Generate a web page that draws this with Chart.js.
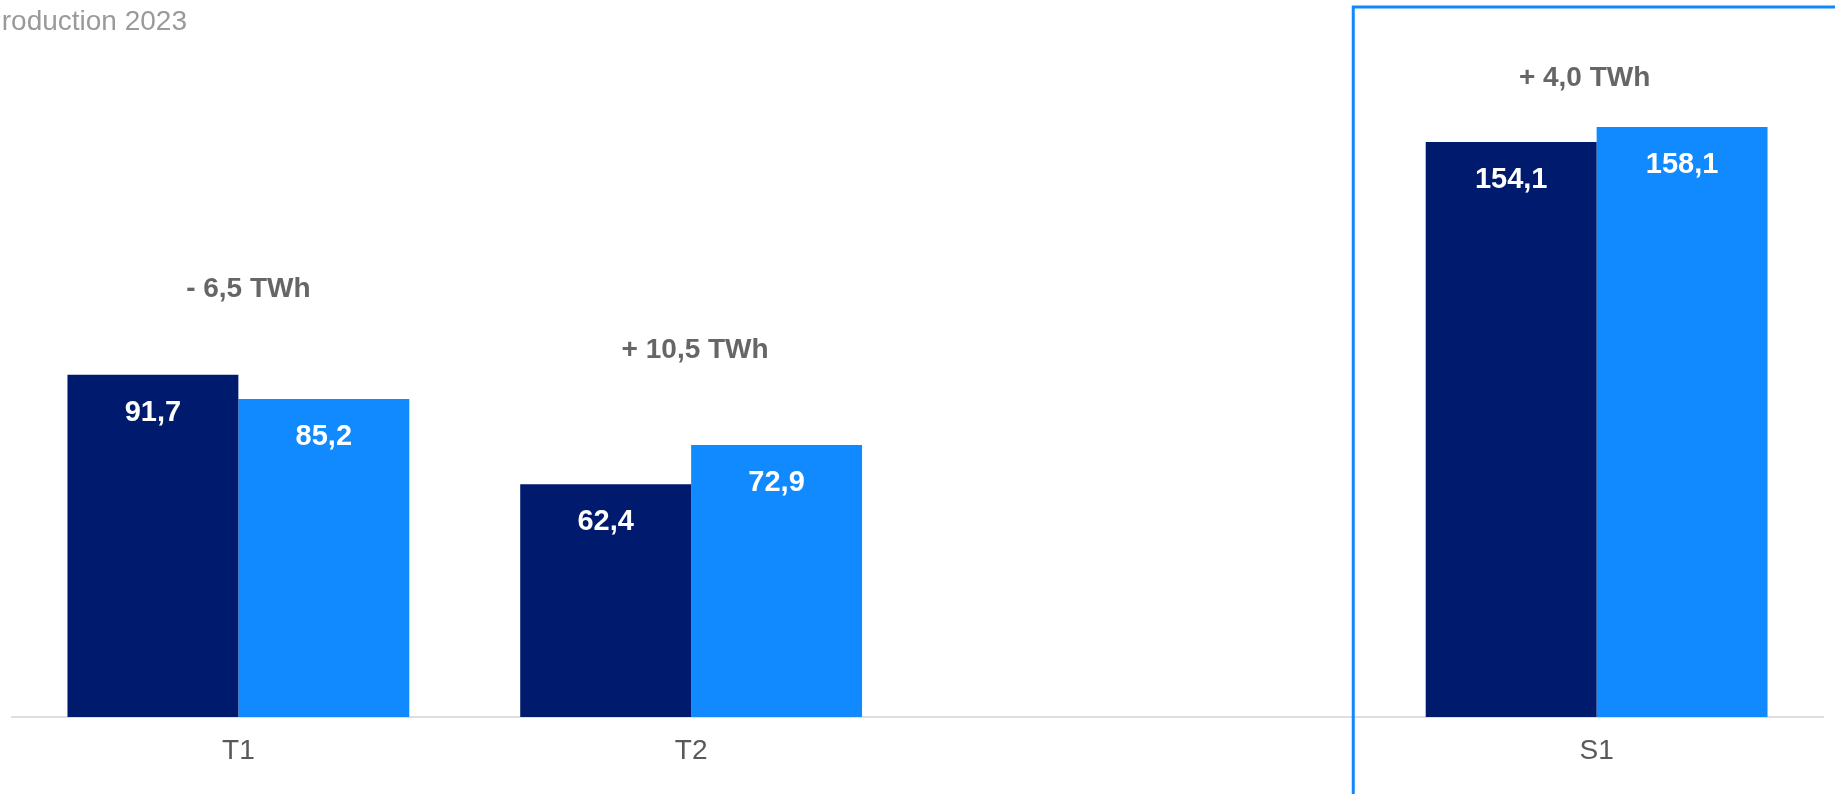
<!DOCTYPE html>
<html>
<head>
<meta charset="utf-8">
<script src="https://cdn.jsdelivr.net/npm/chart.js@4.4.1/dist/chart.umd.min.js"></script>
<style>
  html, body { margin: 0; padding: 0; background: #fff; overflow: hidden; }
</style>
</head>
<body>
<canvas id="chart" width="1835" height="794"></canvas>
<script>
// data
const categories = ['T1', 'T2', '', 'S1'];
const values2022 = [91.7, 62.4, null, 154.1];
const values2023 = [85.2, 72.9, null, 158.1];
const titleText = 'Production 2023';

// label placement (pixels above the taller bar / sideways nudge)
const deltaLift = [86, 95, 0, 49];
const deltaNudge = [10, 4, 0, -12];

const FONT = '"Liberation Sans", Arial, sans-serif';
const DARK = '#001B6E';
const LIGHT = '#118AFF';

function fmt(v) {
  return v.toFixed(1).replace('.', ',');
}

function deltaText(a, b) {
  const d = b - a;
  return (d < 0 ? '- ' : '+ ') + fmt(Math.abs(d)) + ' TWh';
}

const labelsPlugin = {
  id: 'labels',
  afterDatasetsDraw(chart) {
    const c = chart.ctx;
    c.save();
    c.textAlign = 'center';
    c.textBaseline = 'middle';
    // values inside the bars
    c.font = 'bold 29px ' + FONT;
    c.fillStyle = '#fff';
    chart.data.datasets.forEach((ds, i) => {
      chart.getDatasetMeta(i).data.forEach((bar, j) => {
        if (ds.data[j] == null) return;
        c.fillText(fmt(ds.data[j]), bar.x, bar.y + 38);
      });
    });
    // differences above each pair
    c.font = 'bold 28px ' + FONT;
    c.fillStyle = '#666666';
    const x = chart.scales.x, y = chart.scales.y;
    categories.forEach((cat, j) => {
      const a = values2022[j], b = values2023[j];
      if (a == null || b == null) return;
      const top = y.getPixelForValue(Math.max(a, b));
      c.fillText(deltaText(a, b), x.getPixelForValue(j) + deltaNudge[j], top - deltaLift[j]);
    });
    c.restore();
  },
  afterDraw(chart) {
    const c = chart.ctx;
    const x = chart.scales.x;
    c.save();
    // title, partly cut off at the left edge
    c.font = '28px ' + FONT;
    c.fillStyle = '#9A9A9A';
    c.textAlign = 'right';
    c.textBaseline = 'middle';
    c.fillText(titleText, 187, 22);
    // frame around the semester block
    const left = (x.getPixelForValue(2) + x.getPixelForValue(3)) / 2 - 17;
    c.strokeStyle = '#1188FF';
    c.lineWidth = 3;
    c.strokeRect(left, 7, 2000, 2000);
    c.restore();
  }
};

new Chart(document.getElementById('chart'), {
  type: 'bar',
  data: {
    labels: categories,
    datasets: [
      { label: '2022', data: values2022, backgroundColor: DARK },
      { label: '2023', data: values2023, backgroundColor: LIGHT }
    ]
  },
  options: {
    responsive: false,
    animation: false,
    devicePixelRatio: 1,
    layout: { padding: { left: 12, right: 12, top: 8, bottom: 0 } },
    datasets: { bar: { categoryPercentage: 0.755, barPercentage: 1 } },
    plugins: {
      legend: { display: false },
      tooltip: { enabled: false }
    },
    scales: {
      x: {
        grid: { display: false, drawTicks: false },
        border: { color: '#DEDEDE', width: 2 },
        ticks: { color: '#595959', font: { family: FONT, size: 28 }, padding: 17 },
        afterFit: s => { s.height = 77; }
      },
      y: {
        display: false,
        min: 0,
        max: 190
      }
    }
  },
  plugins: [labelsPlugin]
});
</script>
</body>
</html>
